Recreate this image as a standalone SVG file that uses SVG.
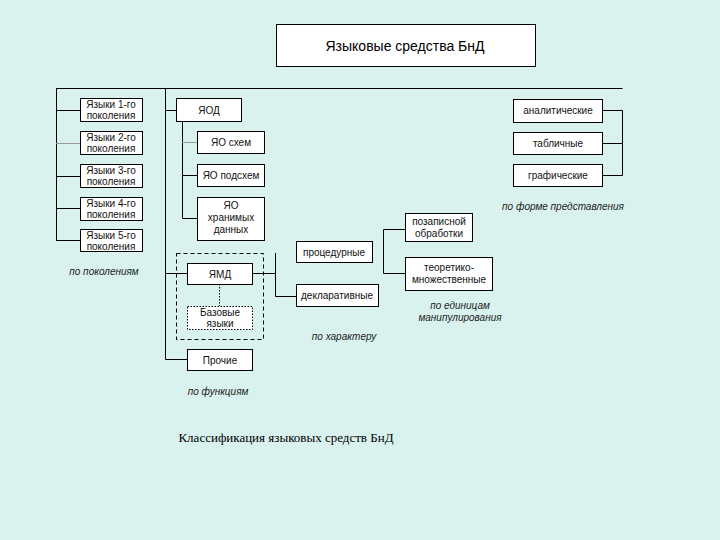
<svg xmlns="http://www.w3.org/2000/svg" width="720" height="540" viewBox="0 0 720 540">
<style>
.bx{fill:#fff;stroke:#000;stroke-width:1}
.t{font-family:"Liberation Sans",Arial,sans-serif;font-size:10px;fill:#111;text-anchor:middle}
.i{font-family:"Liberation Sans",Arial,sans-serif;font-size:10px;font-style:italic;fill:#222;text-anchor:middle}
.ln{fill:none;stroke:#000;stroke-width:1}
.lg{fill:none;stroke:#999;stroke-width:1}
</style>
<rect width="720" height="540" fill="#D9F2EE"/>
<g id="connectors">
<path class="ln" d="M56,88.5H622.5M56.5,88V240.5M56,110.5H80M56,176.5H80M56,208.5H80M56,240.5H80"/>
<path class="lg" d="M56,143.5H80"/>
<path class="ln" d="M165.5,88V359.5H187M165,110.5H176M165,273.5H187"/>
<path class="ln" d="M182.5,121V218.5H197M182,175.5H197"/>
<path class="lg" d="M182,142.5H197"/>
<path class="ln" d="M219.5,284V306" stroke-dasharray="1.5,1.5"/>
<path class="ln" d="M252,273.5H275.5M275.5,253V296.5H296"/>
<path class="ln" d="M405,229.5H383.5V273.5H405"/>
<path class="ln" d="M602,110.5H622.5V175.5H602M602,143.5H622"/>
</g>
<g id="title"><rect class="bx" x="276.5" y="24.5" width="259" height="42"/><text x="405" y="51" font-family="Liberation Sans,Arial,sans-serif" font-size="14" text-anchor="middle" fill="#000">Языковые средства БнД</text></g>
<g id="gen1"><rect class="bx" x="80.5" y="98.5" width="62" height="23"/><text class="t" x="111" y="108">Языки 1-го</text><text class="t" x="111" y="119">поколения</text></g>
<g id="gen2"><rect class="bx" x="80.5" y="131.5" width="62" height="23"/><text class="t" x="111" y="141">Языки 2-го</text><text class="t" x="111" y="152">поколения</text></g>
<g id="gen3"><rect class="bx" x="80.5" y="164.5" width="62" height="23"/><text class="t" x="111" y="174">Языки 3-го</text><text class="t" x="111" y="185">поколения</text></g>
<g id="gen4"><rect class="bx" x="80.5" y="197.5" width="62" height="23"/><text class="t" x="111" y="207">Языки 4-го</text><text class="t" x="111" y="218">поколения</text></g>
<g id="gen5"><rect class="bx" x="80.5" y="229.5" width="62" height="22"/><text class="t" x="111" y="239">Языки 5-го</text><text class="t" x="111" y="250">поколения</text></g>
<text class="i" x="104" y="275">по поколениям</text>
<g id="yaod"><rect class="bx" x="176.5" y="98.5" width="65" height="23"/><text class="t" x="209" y="114">ЯОД</text></g>
<g id="yao1"><rect class="bx" x="197.5" y="131.5" width="67" height="22"/><text class="t" x="231" y="146">ЯО схем</text></g>
<g id="yao2"><rect class="bx" x="197.5" y="164.5" width="67" height="22"/><text class="t" x="231" y="179">ЯО подсхем</text></g>
<g id="yao3"><rect class="bx" x="197.5" y="197.5" width="67" height="43"/><text class="t" x="231" y="209">ЯО</text><text class="t" x="231" y="221">хранимых</text><text class="t" x="231" y="233">данных</text></g>
<g id="yamd-group"><rect x="176.5" y="253.5" width="87" height="86" fill="none" stroke="#000" stroke-dasharray="4,3"/></g>
<g id="yamd"><rect class="bx" x="187.5" y="263.5" width="65" height="21"/><text class="t" x="220" y="278">ЯМД</text></g>
<g id="base"><rect x="187.5" y="306.5" width="65" height="23" fill="#fff" stroke="#000" stroke-dasharray="1.5,1.5"/><text class="t" x="220" y="316">Базовые</text><text class="t" x="220" y="327">языки</text></g>
<g id="other"><rect class="bx" x="187.5" y="349.5" width="65" height="21"/><text class="t" x="220" y="364">Прочие</text></g>
<text class="i" x="218" y="395">по функциям</text>
<g id="proc"><rect class="bx" x="296.5" y="241.5" width="76" height="21"/><text class="t" x="334" y="256">процедурные</text></g>
<g id="decl"><rect class="bx" x="296.5" y="284.5" width="82" height="22"/><text class="t" x="337" y="299">декларативные</text></g>
<text class="i" x="344" y="340">по характеру</text>
<g id="rec"><rect class="bx" x="405.5" y="213.5" width="67" height="28"/><text class="t" x="439" y="225">позаписной</text><text class="t" x="439" y="237">обработки</text></g>
<g id="set"><rect class="bx" x="405.5" y="257.5" width="87" height="33"/><text class="t" x="449" y="271">теоретико-</text><text class="t" x="449" y="283">множественные</text></g>
<text class="i" x="460" y="309">по единицам</text>
<text class="i" x="460" y="321">манипулирования</text>
<g id="anal"><rect class="bx" x="513.5" y="99.5" width="89" height="23"/><text class="t" x="558" y="114">аналитические</text></g>
<g id="tab"><rect class="bx" x="513.5" y="132.5" width="89" height="22"/><text class="t" x="558" y="147">табличные</text></g>
<g id="graph"><rect class="bx" x="513.5" y="164.5" width="89" height="22"/><text class="t" x="558" y="179">графические</text></g>
<text class="i" x="563" y="210">по форме представления</text>
<text x="286" y="442" font-family="Liberation Serif,Times New Roman,serif" font-size="13" text-anchor="middle" fill="#000">Классификация языковых средств БнД</text>
</svg>
